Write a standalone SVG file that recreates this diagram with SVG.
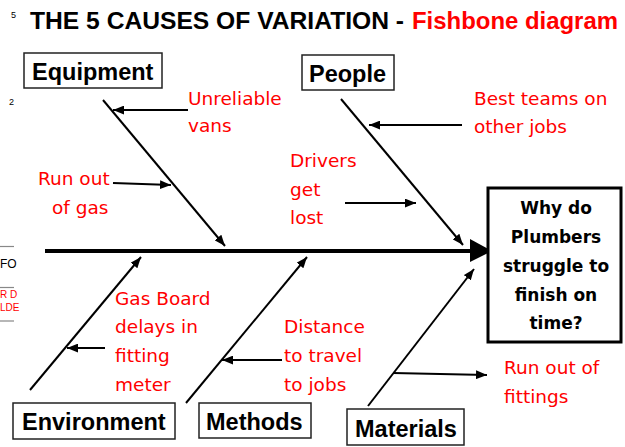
<svg xmlns="http://www.w3.org/2000/svg" width="625" height="447" viewBox="0 0 625 447">
<defs>
<style>
.title{font-family:"Liberation Sans",Arial,sans-serif;font-weight:bold;font-size:24px}
.box{fill:#fff;stroke:#222;stroke-width:1.5}
.lbl{font-family:"Liberation Sans",Arial,sans-serif;font-weight:bold;font-size:23.5px;fill:#000}
.red{font-family:"DejaVu Sans",sans-serif;font-size:18.5px;fill:#ff0000}
.q{font-family:"DejaVu Sans",sans-serif;font-weight:bold;font-size:17px;fill:#000;text-anchor:middle}
.bone{stroke:#000;stroke-width:2;fill:none}
.art{stroke:#888;stroke-width:1.2}
</style>
<marker id="ah" viewBox="0 0 10 8" refX="10" refY="4" markerWidth="11" markerHeight="9" markerUnits="userSpaceOnUse" orient="auto">
<path d="M0,0 L10,4 L0,8 Z" fill="#000"/>
</marker>
</defs>
<rect width="625" height="447" fill="#fff"/>
<g id="artifacts">
<text x="11" y="18" font-family="Liberation Sans,sans-serif" font-size="9" fill="#000">5</text>
<text x="9" y="105" font-family="Liberation Sans,sans-serif" font-size="9" fill="#000">2</text>
<line class="art" x1="0" y1="246.5" x2="14" y2="246.5"/>
<line class="art" x1="0" y1="287.5" x2="14" y2="287.5"/>
<line class="art" x1="0" y1="321" x2="14" y2="321"/>
<text x="0" y="268" font-family="Liberation Sans,sans-serif" font-size="12" fill="#000">FO</text>
<text x="0" y="298" font-family="Liberation Sans,sans-serif" font-size="10" fill="#ff0000">R D</text>
<text x="0" y="311" font-family="Liberation Sans,sans-serif" font-size="10" fill="#ff0000">LDE</text>
</g>
<g id="title">
<text class="title" x="30" y="29" textLength="374" lengthAdjust="spacingAndGlyphs" fill="#000">THE 5 CAUSES OF VARIATION -</text>
<text class="title" x="412" y="29" textLength="206" lengthAdjust="spacingAndGlyphs" fill="#ff0000">Fishbone diagram</text>
</g>
<g id="connectors">
<line x1="45" y1="251" x2="474" y2="251" stroke="#000" stroke-width="4"/>
<polygon points="470,239 492,251 470,262" fill="#000"/>
<line class="bone" x1="103" y1="100" x2="225" y2="246" marker-end="url(#ah)"/>
<line class="bone" x1="341" y1="99" x2="463" y2="245" marker-end="url(#ah)"/>
<line class="bone" x1="30" y1="390" x2="141" y2="257" marker-end="url(#ah)"/>
<line class="bone" x1="186" y1="403" x2="307" y2="257" marker-end="url(#ah)"/>
<line class="bone" x1="368" y1="406" x2="474" y2="269" marker-end="url(#ah)"/>
<line class="bone" x1="188" y1="110" x2="113" y2="110" marker-end="url(#ah)"/>
<line class="bone" x1="113" y1="183" x2="171" y2="185" marker-end="url(#ah)"/>
<line class="bone" x1="462" y1="125" x2="369" y2="125" marker-end="url(#ah)"/>
<line class="bone" x1="345" y1="203" x2="416" y2="203" marker-end="url(#ah)"/>
<line class="bone" x1="105" y1="348" x2="67" y2="348" marker-end="url(#ah)"/>
<line class="bone" x1="282" y1="360" x2="222" y2="360" marker-end="url(#ah)"/>
<line class="bone" x1="393" y1="373" x2="487" y2="375" marker-end="url(#ah)"/>
</g>
<g id="equipment">
<rect class="box" x="24" y="53" width="138" height="35"/>
<text class="lbl" x="32" y="80">Equipment</text>
</g>
<g id="people">
<rect class="box" x="302" y="55" width="92" height="35"/>
<text class="lbl" x="309" y="82">People</text>
</g>
<g id="environment">
<rect class="box" x="13" y="403" width="162" height="36"/>
<text class="lbl" x="22" y="430">Environment</text>
</g>
<g id="methods">
<rect class="box" x="199" y="403" width="112" height="35"/>
<text class="lbl" x="206" y="430">Methods</text>
</g>
<g id="materials">
<rect class="box" x="347" y="409" width="117" height="36"/>
<text class="lbl" x="355" y="437">Materials</text>
</g>
<g id="problem">
<rect x="488" y="188" width="133" height="154" fill="#fff" stroke="#000" stroke-width="3"/>
<text class="q" x="556" y="214">Why do</text>
<text class="q" x="556" y="243">Plumbers</text>
<text class="q" x="556" y="272">struggle to</text>
<text class="q" x="556" y="301">finish on</text>
<text class="q" x="556" y="329">time?</text>
</g>
<g id="cause-unreliable-vans">
<text class="red" x="188" y="105">Unreliable</text>
<text class="red" x="188" y="132">vans</text>
</g>
<g id="cause-run-out-of-gas">
<text class="red" x="38" y="185">Run out</text>
<text class="red" x="52" y="214">of gas</text>
</g>
<g id="cause-drivers-get-lost">
<text class="red" x="290" y="167">Drivers</text>
<text class="red" x="290" y="196">get</text>
<text class="red" x="290" y="224">lost</text>
</g>
<g id="cause-best-teams">
<text class="red" x="474" y="105">Best teams on</text>
<text class="red" x="474" y="133">other jobs</text>
</g>
<g id="cause-gas-board">
<text class="red" x="115" y="305">Gas Board</text>
<text class="red" x="115" y="333">delays in</text>
<text class="red" x="115" y="362">fitting</text>
<text class="red" x="115" y="391">meter</text>
</g>
<g id="cause-distance">
<text class="red" x="284" y="333">Distance</text>
<text class="red" x="284" y="362">to travel</text>
<text class="red" x="284" y="391">to jobs</text>
</g>
<g id="cause-run-out-of-fittings">
<text class="red" x="504" y="374">Run out of</text>
<text class="red" x="504" y="403">fittings</text>
</g>
</svg>
